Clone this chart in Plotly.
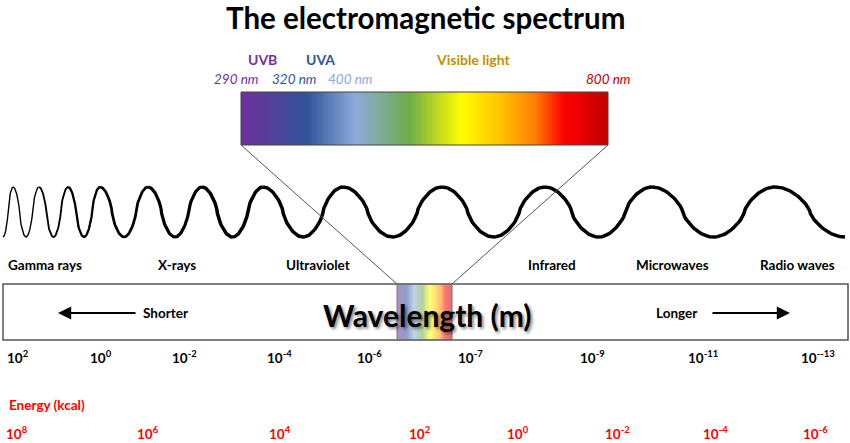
import numpy as np
import plotly.graph_objects as go

# ---- data ----
title = "The electromagnetic spectrum"
band_names = ["UVB", "UVA", "Visible light"]
band_colors = ["#7030A0", "#2F5597", "#BF9000"]
nm_labels = ["290 nm", "320 nm", "400 nm", "800 nm"]
nm_colors = ["#7030A0", "#2F5597", "#8EA9DB", "#C00000"]
wave_names = ["Gamma rays", "X-rays", "Ultraviolet", "Infrared", "Microwaves", "Radio waves"]
wl_exp = ["2", "0", "-2", "-4", "-6", "-7", "-9", "-11", "--13"]
energy_exp = ["8", "6", "4", "2", "0", "-2", "-4", "-6"]

# gradient of the visible / UV strip (fraction along strip, colour)
grad_stops = [0.0, 0.18, 0.31, 0.46, 0.60, 0.71, 0.80, 0.88, 1.0]
grad_cols = ["#7030A0", "#2F5597", "#8EA9DB", "#70AD47", "#FFFF00",
             "#FFC000", "#FF8000", "#FF0000", "#C00000"]

# ---- layout positions (pixels) ----
W, H = 850, 443
peaks = [13, 39, 68, 100, 148, 202, 263, 343, 442, 545, 652, 775]
wave_start, wave_end = 3, 845
wave_mid, wave_amp = 212, 25
band_x = [262, 320, 473]
nm_x = [236, 294, 350, 608]
wave_x = [45, 177, 318, 552, 672, 797]
wl_x = [18, 101, 184, 279, 369, 470, 592, 703, 818]
en_x = [17, 148, 280, 420, 518, 617, 715, 815]

fig = go.Figure()
FONT = "Lato"

# gradient strips (heatmap coloured along x)
cs = [[s, c] for s, c in zip(grad_stops, grad_cols)]
def strip(x0, x1, y0, y1, opacity=1.0):
    n = 300
    xe = np.linspace(x0, x1, n + 1)
    xc = (xe[:-1] + xe[1:]) / 2
    fig.add_trace(go.Heatmap(x=xe, y=[y0, y1], z=[xc], zmin=x0, zmax=x1,
                             colorscale=cs, showscale=False, opacity=opacity,
                             hoverinfo="skip"))

strip(241, 608, 92, 145)
strip(397, 452, 284, 340, opacity=0.55)

# the wave, getting longer (and thicker) to the right
def wave_segment(xa, xb, pa, pb, width):
    xs = np.linspace(xa, xb, 80)
    ph = pa + (pb - pa) * (xs - xa) / (xb - xa)
    c = np.cos(ph)
    ys = wave_mid - wave_amp * np.sign(c) * np.abs(c) ** 0.7
    fig.add_trace(go.Scatter(x=xs, y=ys, mode="lines", hoverinfo="skip",
                             line=dict(color="black", width=width), showlegend=False))

wave_segment(wave_start, peaks[0], -np.pi, 0, 1.4)
for i in range(len(peaks) - 1):
    wave_segment(peaks[i], peaks[i + 1], 0, 2 * np.pi, min(1.4 + 0.45 * i, 3.5))
wave_segment(peaks[-1], wave_end, 0, np.pi, 3.5)

shapes = [
    dict(type="rect", x0=241, x1=608, y0=92, y1=145, line=dict(color="#444", width=1)),
    dict(type="rect", x0=3, x1=848, y0=284, y1=340, line=dict(color="#555", width=1.5)),
    dict(type="rect", x0=397, x1=452, y0=284, y1=340, line=dict(color="#777", width=1)),
    dict(type="line", x0=241, y0=145, x1=397, y1=284, line=dict(color="#555", width=1)),
    dict(type="line", x0=608, y0=145, x1=452, y1=284, line=dict(color="#555", width=1)),
]

ann = []
def txt(x, y, s, size, color="black", xanchor="center", italic=False, shadow=None):
    if italic:
        s = "<i>" + s + "</i>"
    f = dict(family=FONT, size=size, color=color)
    if shadow:
        f["shadow"] = shadow
    ann.append(dict(x=x, y=y, text=s, showarrow=False, xanchor=xanchor, yanchor="middle",
                    font=f))

txt(425, 17, "<b>" + title + "</b>", 29.5)
for n, c, x in zip(band_names, band_colors, band_x):
    txt(x, 59, "<b>" + n + "</b>", 14, c)
for n, c, x in zip(nm_labels, nm_colors, nm_x):
    txt(x, 79, n, 13.5, c, italic=True)
for n, x in zip(wave_names, wave_x):
    txt(x, 265, "<b>" + n + "</b>", 13.5)

# wavelength box contents
txt(427, 315, "<b>Wavelength (m)</b>", 30, shadow="2px 2px 3px rgba(0,0,0,0.45)")
txt(165, 313, "<b>Shorter</b>", 13.5)
txt(676, 313, "<b>Longer</b>", 13.5)
for (xa, xb) in [(137, 58), (711, 790)]:
    ann.append(dict(x=xb, y=313, ax=xa, ay=313, axref="x", ayref="y", xref="x", yref="y",
                    showarrow=True, arrowhead=2, arrowsize=1.2, arrowwidth=2.2,
                    arrowcolor="black", text=""))

for e, x in zip(wl_exp, wl_x):
    txt(x, 357, "<b>10<sup>" + e + "</sup></b>", 13.5)
txt(7, 405, "<b>Energy (kcal)</b>", 13.5, "#FF0000", xanchor="left")
for e, x in zip(energy_exp, en_x):
    txt(x, 433, "<b>10<sup>" + e + "</sup></b>", 13.5, "#FF0000")

fig.update_layout(
    width=W, height=H, margin=dict(l=0, r=0, t=0, b=0),
    paper_bgcolor="white", plot_bgcolor="white", showlegend=False,
    xaxis=dict(range=[0, W], visible=False, fixedrange=True),
    yaxis=dict(range=[H, 0], visible=False, fixedrange=True),
    shapes=shapes, annotations=ann,
)
fig.write_html("out.html", config={"displayModeBar": False},
               post_script="document.body.style.margin='0';document.body.style.overflow='hidden';")
